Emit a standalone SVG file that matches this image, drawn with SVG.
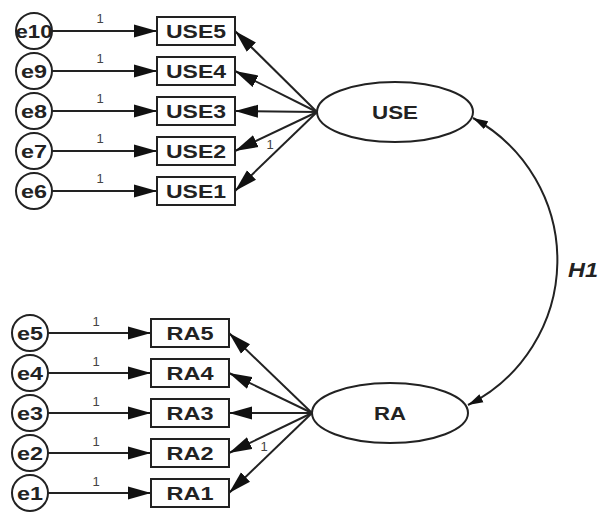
<svg xmlns="http://www.w3.org/2000/svg" width="602" height="514" viewBox="0 0 602 514">
<defs>
<style>
.n{fill:#fff;stroke:#222;stroke-width:2}
.t{font-family:"Liberation Sans",Arial,sans-serif;font-weight:bold;font-size:19px;fill:#222;text-anchor:middle}
.w{font-family:"Liberation Sans",Arial,sans-serif;font-size:13px;fill:#444;text-anchor:middle}
.c{fill:none;stroke:#222;stroke-width:2}
</style>
<marker id="a" markerUnits="userSpaceOnUse" markerWidth="24" markerHeight="14" refX="23" refY="7" orient="auto">
<path d="M0,0.5 L23,7 L0,13.5 z" fill="#111"/>
</marker>
<marker id="b" markerUnits="userSpaceOnUse" markerWidth="16" markerHeight="10" refX="15" refY="5" orient="auto-start-reverse">
<path d="M0,0.5 L15,5 L0,9.5 z" fill="#111"/>
</marker>
</defs>
<rect width="602" height="514" fill="#fff"/>
<g id="connectors">
<line class="c" x1="52" y1="31" x2="157" y2="31" marker-end="url(#a)"/>
<line class="c" x1="52" y1="71" x2="157" y2="71" marker-end="url(#a)"/>
<line class="c" x1="52" y1="111" x2="157" y2="111" marker-end="url(#a)"/>
<line class="c" x1="52" y1="151" x2="157" y2="151" marker-end="url(#a)"/>
<line class="c" x1="52" y1="191" x2="157" y2="191" marker-end="url(#a)"/>
<line class="c" x1="317" y1="112" x2="235" y2="31" marker-end="url(#a)"/>
<line class="c" x1="317" y1="112" x2="235" y2="71" marker-end="url(#a)"/>
<line class="c" x1="317" y1="112" x2="235" y2="111" marker-end="url(#a)"/>
<line class="c" x1="317" y1="112" x2="235" y2="151" marker-end="url(#a)"/>
<line class="c" x1="317" y1="112" x2="235" y2="191" marker-end="url(#a)"/>
<line class="c" x1="48" y1="333" x2="151" y2="333" marker-end="url(#a)"/>
<line class="c" x1="48" y1="373" x2="151" y2="373" marker-end="url(#a)"/>
<line class="c" x1="48" y1="413" x2="151" y2="413" marker-end="url(#a)"/>
<line class="c" x1="48" y1="453" x2="151" y2="453" marker-end="url(#a)"/>
<line class="c" x1="48" y1="493" x2="151" y2="493" marker-end="url(#a)"/>
<line class="c" x1="312" y1="413" x2="229" y2="333" marker-end="url(#a)"/>
<line class="c" x1="312" y1="413" x2="229" y2="373" marker-end="url(#a)"/>
<line class="c" x1="312" y1="413" x2="229" y2="413" marker-end="url(#a)"/>
<line class="c" x1="312" y1="413" x2="229" y2="453" marker-end="url(#a)"/>
<line class="c" x1="312" y1="413" x2="229" y2="493" marker-end="url(#a)"/>
<path class="c" d="M473,118 A162,162 0 0 1 468,405" marker-start="url(#b)" marker-end="url(#b)"/>
<text class="w" x="100" y="23">1</text>
<text class="w" x="100" y="63">1</text>
<text class="w" x="100" y="103">1</text>
<text class="w" x="100" y="143">1</text>
<text class="w" x="100" y="183">1</text>
<text class="w" x="270" y="149">1</text>
<text class="w" x="96" y="326">1</text>
<text class="w" x="96" y="366">1</text>
<text class="w" x="96" y="406">1</text>
<text class="w" x="96" y="446">1</text>
<text class="w" x="96" y="486">1</text>
<text class="w" x="264" y="451">1</text>
<text x="583" y="277" font-family="Liberation Sans,Arial,sans-serif" font-weight="bold" font-style="italic" font-size="20" fill="#222" text-anchor="middle" textLength="30" lengthAdjust="spacingAndGlyphs">H1</text>
</g>
<g id="e10"><circle class="n" cx="34" cy="31" r="18"/><text class="t" x="34" y="38" textLength="37" lengthAdjust="spacingAndGlyphs">e10</text></g>
<g id="e9"><circle class="n" cx="34" cy="71" r="18"/><text class="t" x="34" y="78" textLength="26" lengthAdjust="spacingAndGlyphs">e9</text></g>
<g id="e8"><circle class="n" cx="34" cy="111" r="18"/><text class="t" x="34" y="118" textLength="26" lengthAdjust="spacingAndGlyphs">e8</text></g>
<g id="e7"><circle class="n" cx="34" cy="151" r="18"/><text class="t" x="34" y="158" textLength="26" lengthAdjust="spacingAndGlyphs">e7</text></g>
<g id="e6"><circle class="n" cx="34" cy="191" r="18"/><text class="t" x="34" y="198" textLength="26" lengthAdjust="spacingAndGlyphs">e6</text></g>
<g id="USE5"><rect class="n" x="157" y="17" width="78" height="28"/><text class="t" x="196" y="38" textLength="60" lengthAdjust="spacingAndGlyphs">USE5</text></g>
<g id="USE4"><rect class="n" x="157" y="57" width="78" height="28"/><text class="t" x="196" y="78" textLength="60" lengthAdjust="spacingAndGlyphs">USE4</text></g>
<g id="USE3"><rect class="n" x="157" y="97" width="78" height="28"/><text class="t" x="196" y="118" textLength="60" lengthAdjust="spacingAndGlyphs">USE3</text></g>
<g id="USE2"><rect class="n" x="157" y="137" width="78" height="28"/><text class="t" x="196" y="158" textLength="60" lengthAdjust="spacingAndGlyphs">USE2</text></g>
<g id="USE1"><rect class="n" x="157" y="177" width="78" height="28"/><text class="t" x="196" y="198" textLength="60" lengthAdjust="spacingAndGlyphs">USE1</text></g>
<g id="USE"><ellipse class="n" cx="395" cy="112" rx="78" ry="30"/><text class="t" x="395" y="119" textLength="46" lengthAdjust="spacingAndGlyphs">USE</text></g>
<g id="e5"><circle class="n" cx="30" cy="333" r="18"/><text class="t" x="30" y="340" textLength="26" lengthAdjust="spacingAndGlyphs">e5</text></g>
<g id="e4"><circle class="n" cx="30" cy="373" r="18"/><text class="t" x="30" y="380" textLength="26" lengthAdjust="spacingAndGlyphs">e4</text></g>
<g id="e3"><circle class="n" cx="30" cy="413" r="18"/><text class="t" x="30" y="420" textLength="26" lengthAdjust="spacingAndGlyphs">e3</text></g>
<g id="e2"><circle class="n" cx="30" cy="453" r="18"/><text class="t" x="30" y="460" textLength="26" lengthAdjust="spacingAndGlyphs">e2</text></g>
<g id="e1"><circle class="n" cx="30" cy="493" r="18"/><text class="t" x="30" y="500" textLength="26" lengthAdjust="spacingAndGlyphs">e1</text></g>
<g id="RA5"><rect class="n" x="151" y="319" width="78" height="28"/><text class="t" x="190" y="340" textLength="47" lengthAdjust="spacingAndGlyphs">RA5</text></g>
<g id="RA4"><rect class="n" x="151" y="359" width="78" height="28"/><text class="t" x="190" y="380" textLength="47" lengthAdjust="spacingAndGlyphs">RA4</text></g>
<g id="RA3"><rect class="n" x="151" y="399" width="78" height="28"/><text class="t" x="190" y="420" textLength="47" lengthAdjust="spacingAndGlyphs">RA3</text></g>
<g id="RA2"><rect class="n" x="151" y="439" width="78" height="28"/><text class="t" x="190" y="460" textLength="47" lengthAdjust="spacingAndGlyphs">RA2</text></g>
<g id="RA1"><rect class="n" x="151" y="479" width="78" height="28"/><text class="t" x="190" y="500" textLength="47" lengthAdjust="spacingAndGlyphs">RA1</text></g>
<g id="RA"><ellipse class="n" cx="390" cy="413" rx="78" ry="30"/><text class="t" x="390" y="420" textLength="32" lengthAdjust="spacingAndGlyphs">RA</text></g>
</svg>
